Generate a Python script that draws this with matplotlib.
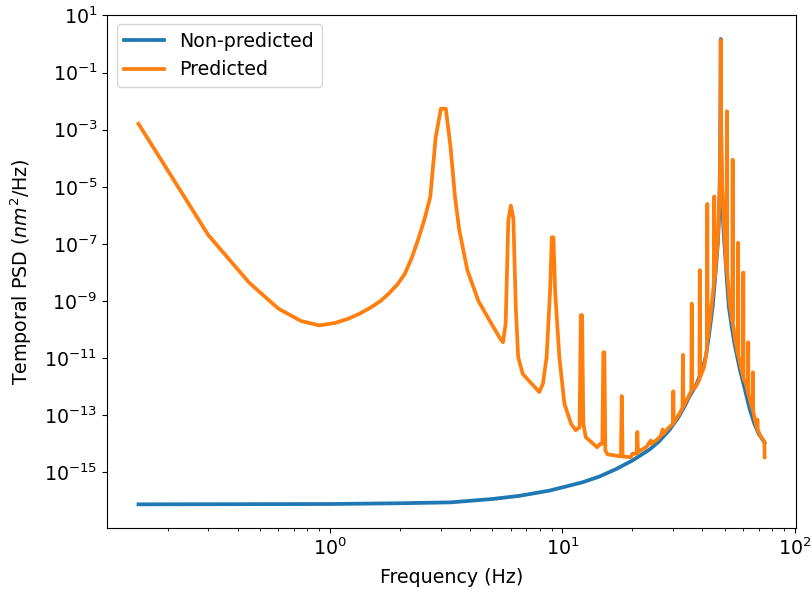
import matplotlib
import matplotlib.pyplot as plt
from matplotlib.ticker import NullLocator

matplotlib.use('Agg')

# Non-predicted response (Hz, nm^2/Hz)
freq_np = [0.15, 1.0, 2.0, 3.3, 5.0, 6.5, 8.8, 10.5, 12.2, 14.4, 17.0, 20.0,
           23.7, 26.0, 28.8, 31.5, 33.5, 35.1, 37.5, 39.9, 41.5, 42.7, 44.3,
           45.7, 46.6, 47.2, 47.7, 48.0, 48.3, 48.8, 49.4, 50.9, 52.0, 53.5,
           55.0, 58.0, 61.0, 64.0, 67.0, 70.0, 74.1]
psd_np = [7.6e-17, 7.8e-17, 8.3e-17, 8.9e-17, 1.17e-16, 1.5e-16, 2.3e-16,
          3.3e-16, 4.5e-16, 7.1e-16, 1.3e-15, 2.6e-15, 6.3e-15, 1.2e-14,
          3.0e-14, 8.3e-14, 2.0e-13, 4.4e-13, 1.1e-12, 3.7e-12, 1.26e-11,
          6.3e-11, 6.3e-10, 1.26e-8, 1.0e-7, 8.7e-7, 1.0e-4, 1.5, 1.0e-4,
          2.0e-6, 2.5e-7, 6.9e-9, 6.3e-10, 1.26e-10, 3.2e-11, 4.0e-12,
          7.9e-13, 1.6e-13, 5.0e-14, 2.2e-14, 1.1e-14]

# Predicted response
freq_p = [0.15, 0.30, 0.45, 0.60, 0.75, 0.90, 1.05, 1.20, 1.35, 1.50, 1.65,
          1.80, 1.95, 2.10, 2.25, 2.40, 2.55, 2.70, 2.85, 3.00, 3.15, 3.30,
          3.45, 3.60, 3.90, 4.35, 4.95, 5.40, 5.55, 5.70, 5.85, 6.00, 6.15,
          6.30, 6.45, 6.75, 7.50, 7.95, 8.25, 8.55, 8.85, 9.00, 9.15, 9.30,
          9.70, 10.2, 10.9, 11.4, 11.85, 12.0, 12.15, 12.3, 12.45, 12.6,
          14.1, 14.55, 14.85, 15.0, 15.15, 15.3, 15.6, 17.55, 17.85, 18.0,
          18.15, 19.7, 20.0, 20.85, 21.0, 21.15, 22.0, 22.9, 24.0, 24.15,
          25.25, 26.5, 27.0, 27.15, 28.5, 29.85, 30.0, 30.15, 31.8, 32.85,
          33.0, 33.15, 34.5, 35.85, 36.0, 36.15, 37.5, 38.85, 39.0, 39.15,
          40.7, 41.85, 42.0, 42.15, 43.5, 44.85, 45.0, 45.15, 46.5, 47.5,
          47.85, 48.0, 48.15, 48.6, 49.5, 50.85, 51.0, 51.15, 52.5, 53.85,
          54.0, 54.15, 55.5, 56.85, 57.0, 57.15, 58.5, 59.85, 60.0, 60.15,
          61.5, 62.85, 63.0, 63.15, 64.5, 65.85, 66.0, 66.15, 67.5, 68.85,
          69.0, 69.15, 70.5, 72.0, 73.5, 73.95, 74.1]
psd_p = [1.6e-3, 2.0e-7, 4.3e-9, 5.4e-10, 2.0e-10, 1.4e-10, 1.7e-10, 2.4e-10,
         3.7e-10, 6.0e-10, 1.0e-9, 1.9e-9, 3.8e-9, 9.0e-9, 3.3e-8, 1.5e-7,
         7.2e-7, 4.4e-6, 5.5e-4, 5.4e-3, 5.4e-3, 2.5e-4, 4.4e-6, 3.0e-7,
         1.2e-8, 1.0e-9, 1.6e-10, 4.8e-11, 3.6e-11, 1.6e-10, 6.6e-7, 2.2e-6,
         7.9e-7, 6.2e-10, 1.1e-11, 2.8e-12, 1.1e-12, 6.5e-13, 1.3e-12,
         1.1e-11, 2.3e-9, 1.7e-7, 1.7e-7, 2.3e-9, 1.1e-11, 2.5e-13, 5.0e-14,
         3.0e-14, 3.8e-14, 3.2e-10, 3.2e-10, 5.0e-14, 3.0e-14, 1.7e-14,
         7.6e-15, 1.0e-14, 1.0e-14, 1.6e-11, 1.6e-11, 5.9e-15, 4.3e-15,
         3.7e-15, 3.7e-15, 4.7e-13, 3.6e-15, 3.4e-15, 4.5e-15, 4.5e-15,
         2.6e-14, 5.1e-15, 6.3e-15, 7.6e-15, 1.3e-14, 1.0e-14, 1.3e-14,
         1.9e-14, 3.2e-14, 2.2e-14, 3.5e-14, 5.0e-14, 6.9e-13, 5.6e-14,
         1.1e-13, 1.8e-13, 1.3e-11, 2.0e-13, 3.8e-13, 7.1e-13, 8.1e-10,
         7.9e-13, 1.0e-12, 1.8e-12, 1.2e-8, 2.2e-12, 4.9e-12, 2.0e-11,
         2.5e-6, 5.0e-11, 4.0e-10, 4.0e-9, 4.6e-6, 6.3e-9, 1.0e-7, 6.3e-6,
         1.0e-3, 1.38, 1.0e-3, 1.6e-5, 5.0e-7, 1.3e-8, 4.4e-3, 1.0e-8,
         7.9e-10, 2.0e-10, 8.9e-5, 1.6e-10, 4.0e-11, 1.4e-11, 1.1e-7,
         1.3e-11, 5.0e-12, 2.5e-12, 1.0e-8, 2.0e-12, 1.3e-12, 6.3e-13,
         3.6e-11, 5.6e-13, 2.8e-13, 1.6e-13, 3.2e-12, 1.4e-13, 6.3e-14,
         3.5e-14, 7.1e-14, 3.2e-14, 2.2e-14, 1.6e-14, 1.3e-14, 1.1e-14,
         3.4e-15]

yticks = [1e-15, 1e-13, 1e-11, 1e-9, 1e-7, 1e-5, 1e-3, 1e-1, 1e1]

fs = 13.7
fig = plt.figure(figsize=(8.12, 5.94), dpi=100)
ax = fig.add_subplot(111)
fig.subplots_adjust(left=0.132, right=0.980, top=0.975, bottom=0.111)

ax.loglog(freq_np, psd_np, color='#1f77b4', lw=2.7, label='Non-predicted')
ax.loglog(freq_p, psd_p, color='#ff7f0e', lw=2.7, label='Predicted')

ax.set_xlim(0.110, 100.9)
ax.set_ylim(10 ** -16.95, 10 ** 1.02)
ax.set_yticks(yticks)
ax.yaxis.set_minor_locator(NullLocator())
ax.tick_params(labelsize=fs)

ax.set_xlabel('Frequency (Hz)', fontsize=fs, labelpad=6)
ax.set_ylabel('Temporal PSD ($nm^2$/Hz)', fontsize=fs, labelpad=7)
ax.legend(loc='upper left', fontsize=fs, handlelength=2.1)

fig.savefig('out.png', dpi=100)
